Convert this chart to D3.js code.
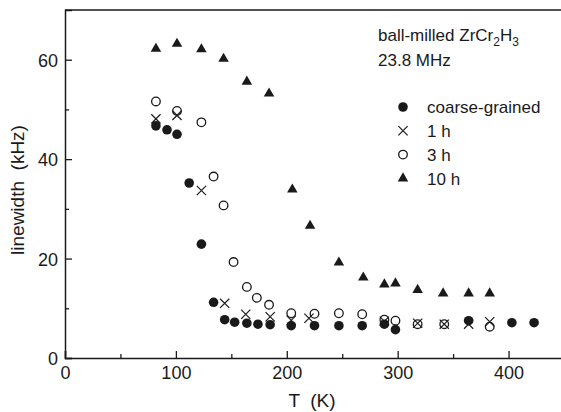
<!DOCTYPE html>
<html>
<head>
<meta charset="utf-8">
<script src="https://cdn.jsdelivr.net/npm/d3@7"></script>
<style>
  body { margin: 0; background: #fff; }
  svg { display: block; font-family: Arial, "Liberation Sans", sans-serif; }
</style>
</head>
<body>
<script>
(function () {
  'use strict';

  // temperatures (K) and linewidths (kHz)
  var coarseT = [82, 92, 101, 112, 123, 134, 144, 153, 164, 174, 185, 204, 225, 247, 268, 288, 298, 364, 403, 423];
  var coarseW = [46.7, 45.9, 45.0, 35.2, 22.9, 11.2, 7.7, 7.2, 7.0, 6.8, 6.7, 6.5, 6.5, 6.5, 6.5, 6.8, 5.7, 7.5, 7.1, 7.1];

  var h1T = [82, 101, 123, 144, 163, 185, 204, 220, 288, 318, 342, 364, 383];
  var h1W = [48.1, 48.8, 33.7, 11.0, 8.8, 8.3, 7.6, 8.0, 7.4, 7.0, 6.8, 6.8, 7.3];

  var h3T = [82, 101, 123, 134, 143, 152, 164, 173, 184, 204, 225, 247, 268, 288, 298, 318, 342, 383];
  var h3W = [51.6, 49.7, 47.4, 36.5, 30.7, 19.3, 14.3, 12.1, 10.7, 9.0, 8.9, 9.0, 8.8, 7.7, 7.5, 6.8, 6.8, 6.3];

  var h10T = [82, 101, 123, 143, 164, 184, 205, 221, 247, 269, 288, 298, 318, 341, 364, 383];
  var h10W = [62.2, 63.2, 62.1, 60.2, 55.6, 53.2, 33.9, 26.6, 19.2, 16.2, 14.8, 15.0, 13.7, 13.0, 13.0, 13.0];

  var legendNames = ['coarse-grained', '1 h', '3 h', '10 h'];
  var xTicks = [0, 100, 200, 300, 400];
  var yTicks = [0, 20, 40, 60];

  var W = 561, H = 412;
  var ink = '#1a1a1a';

  var svg = d3.select('body').append('svg')
    .attr('width', W)
    .attr('height', H);

  var x = d3.scaleLinear().domain([0, 450]).range([65, 564]);
  var y = d3.scaleLinear().domain([0, 70]).range([358, 10]);

  // frame (top and right lines, right one falls off the canvas)
  svg.append('path')
    .attr('d', 'M' + x(0) + ',' + y(70) + 'H' + x(450) + 'V' + y(0))
    .attr('fill', 'none')
    .attr('stroke', ink)
    .attr('stroke-width', 1.5);

  // axes with inward ticks
  var xAxis = svg.append('g')
    .attr('transform', 'translate(0,' + y(0) + ')')
    .call(d3.axisBottom(x).tickValues(xTicks).tickSize(-7).tickPadding(8).tickFormat(d3.format('d')));
  svg.append('g')
    .attr('transform', 'translate(0,' + y(0) + ')')
    .call(d3.axisBottom(x).tickValues([50, 150, 250, 350]).tickSize(-4).tickFormat(''))
    .select('.domain').remove();

  var yAxis = svg.append('g')
    .attr('transform', 'translate(' + x(0) + ',0)')
    .call(d3.axisLeft(y).tickValues(yTicks).tickSize(-7).tickPadding(7).tickFormat(d3.format('d')));
  svg.append('g')
    .attr('transform', 'translate(' + x(0) + ',0)')
    .call(d3.axisLeft(y).tickValues([10, 30, 50]).tickSize(-4).tickFormat(''))
    .select('.domain').remove();

  svg.selectAll('.domain').attr('stroke', ink).attr('stroke-width', 1.5);
  svg.selectAll('.tick line').attr('stroke', ink).attr('stroke-width', 1.3);
  svg.selectAll('.tick text')
    .attr('fill', ink)
    .attr('font-size', 18)
    .attr('font-family', 'Arial, "Liberation Sans", sans-serif');

  xAxis.selectAll('.tick text').attr('dy', '0.71em');
  yAxis.selectAll('.tick text').attr('dy', '0.36em');

  // axis titles
  svg.append('text')
    .attr('x', 312)
    .attr('y', 407)
    .attr('text-anchor', 'middle')
    .attr('font-size', 19)
    .attr('fill', ink)
    .attr('xml:space', 'preserve')
    .text('T  (K)');

  svg.append('text')
    .attr('transform', 'translate(24,' + 190 + ') rotate(-90)')
    .attr('text-anchor', 'middle')
    .attr('font-size', 19)
    .attr('fill', ink)
    .attr('xml:space', 'preserve')
    .text('linewidth  (kHz)');

  // markers
  function zip(ts, ws) {
    return ts.map(function (t, i) {
      return { t: t, w: ws[i] };
    });
  }

  var tri = d3.symbol().type(d3.symbolTriangle).size(48);

  function drawFilled(g, d) {
    g.append('circle').attr('r', 4.8).attr('fill', ink);
  }
  function drawCross(g) {
    g.append('path')
      .attr('d', 'M-4.6,-4.6L4.6,4.6M-4.6,4.6L4.6,-4.6')
      .attr('stroke', ink)
      .attr('stroke-width', 1.2)
      .attr('fill', 'none');
  }
  function drawOpen(g) {
    g.append('circle').attr('r', 4.3).attr('fill', '#fff').attr('fill-opacity', 0)
      .attr('stroke', ink).attr('stroke-width', 1.3);
  }
  function drawTri(g) {
    g.append('path').attr('d', tri()).attr('fill', ink);
  }

  var series = [
    { data: zip(coarseT, coarseW), draw: drawFilled },
    { data: zip(h1T, h1W), draw: drawCross },
    { data: zip(h3T, h3W), draw: drawOpen },
    { data: zip(h10T, h10W), draw: drawTri }
  ];

  series.forEach(function (s) {
    svg.append('g').selectAll('g')
      .data(s.data)
      .enter()
      .append('g')
      .attr('transform', function (d) {
        return 'translate(' + x(d.t) + ',' + y(d.w) + ')';
      })
      .each(function () {
        s.draw(d3.select(this));
      });
  });

  // annotation
  var note = svg.append('text')
    .attr('x', 378)
    .attr('y', 41)
    .attr('font-size', 17)
    .attr('fill', ink);
  note.append('tspan').text('ball-milled ZrCr');
  note.append('tspan').attr('dy', 5).attr('font-size', 12).text('2');
  note.append('tspan').attr('dy', -5).text('H');
  note.append('tspan').attr('dy', 5).attr('font-size', 12).text('3');

  svg.append('text')
    .attr('x', 378)
    .attr('y', 66)
    .attr('font-size', 17)
    .attr('fill', ink)
    .text('23.8 MHz');

  // legend
  var legend = svg.append('g');
  legendNames.forEach(function (name, i) {
    var ly = 107 + i * 23.8;
    var g = legend.append('g').attr('transform', 'translate(403,' + ly + ')');
    series[i].draw(g);
    legend.append('text')
      .attr('x', 427)
      .attr('y', ly)
      .attr('dy', '0.36em')
      .attr('font-size', 17)
      .attr('fill', ink)
      .text(name);
  });
}());
</script>
</body>
</html>
